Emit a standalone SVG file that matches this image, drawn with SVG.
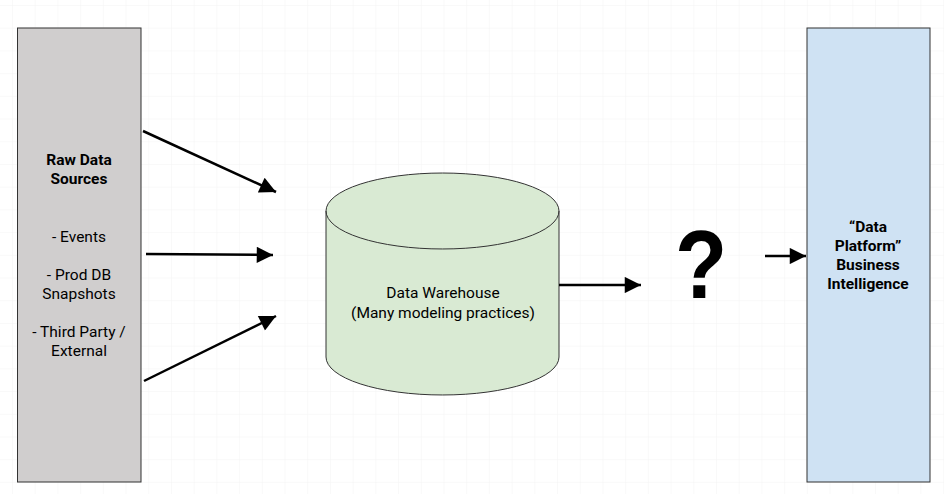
<svg xmlns="http://www.w3.org/2000/svg" width="944" height="494" viewBox="0 0 944 494">
<defs>
<pattern id="grid" x="12" y="5" width="22.71" height="22.71" patternUnits="userSpaceOnUse">
<path d="M0 0H22.71M0 0V22.71" fill="none" stroke="#f3f3f3" stroke-width="1"/>
</pattern>
<marker id="arr" viewBox="0 0 10 10" refX="10" refY="5" markerWidth="8" markerHeight="6.5" orient="auto" markerUnits="strokeWidth">
<path d="M0 0L10 5L0 10z" fill="#000"/>
</marker>
<style>
.t{font-family:Roboto,"Liberation Sans",sans-serif;font-size:15.5px;fill:#000;text-anchor:middle}
.b{font-weight:bold}
.box{stroke:#333;stroke-width:1}
.c{fill:none;stroke:#000;stroke-width:2.5;marker-end:url(#arr)}
</style>
</defs>
<rect width="944" height="494" fill="#fff"/>
<rect width="944" height="494" fill="url(#grid)"/>
<g id="raw-data-sources">
<rect class="box" x="17.5" y="28" width="123.5" height="454" fill="#d0cece"/>
<text class="t b" x="79" y="164.5">Raw Data</text>
<text class="t b" x="79" y="183.5">Sources</text>
<text class="t" x="79" y="241.5">- Events</text>
<text class="t" x="79" y="279.5">- Prod DB</text>
<text class="t" x="79" y="298.5">Snapshots</text>
<text class="t" x="79" y="336.5">- Third Party /</text>
<text class="t" x="79" y="355.5">External</text>
</g>
<g id="data-warehouse">
<path class="box" d="M326 211A116.5 38 0 0 1 559 211V357A116.5 38 0 0 1 326 357Z" fill="#d9ead3"/>
<path class="box" d="M326 211A116.5 38 0 0 0 559 211" fill="none"/>
<text class="t" x="443" y="298">Data Warehouse</text>
<text class="t" x="443" y="317.5">(Many modeling practices)</text>
</g>
<g id="question">
<text x="0" y="0" transform="translate(701 298) scale(0.88 1)" font-family="'Liberation Sans',Arial,sans-serif" font-weight="bold" font-size="97" text-anchor="middle" fill="#000">?</text>
</g>
<g id="business-intelligence">
<rect class="box" x="807" y="28" width="123" height="454" fill="#cfe2f3"/>
<text class="t b" x="868" y="231.5">“Data</text>
<text class="t b" x="868" y="250.5">Platform”</text>
<text class="t b" x="868" y="269.5">Business</text>
<text class="t b" x="868" y="288.5">Intelligence</text>
</g>
<g id="connectors">
<line class="c" x1="143" y1="131" x2="276" y2="192"/>
<line class="c" x1="146" y1="254" x2="273" y2="255"/>
<line class="c" x1="144" y1="381" x2="276" y2="316"/>
<line class="c" x1="559" y1="285" x2="641" y2="285"/>
<line class="c" x1="765" y1="256" x2="806" y2="256"/>
</g>
</svg>
